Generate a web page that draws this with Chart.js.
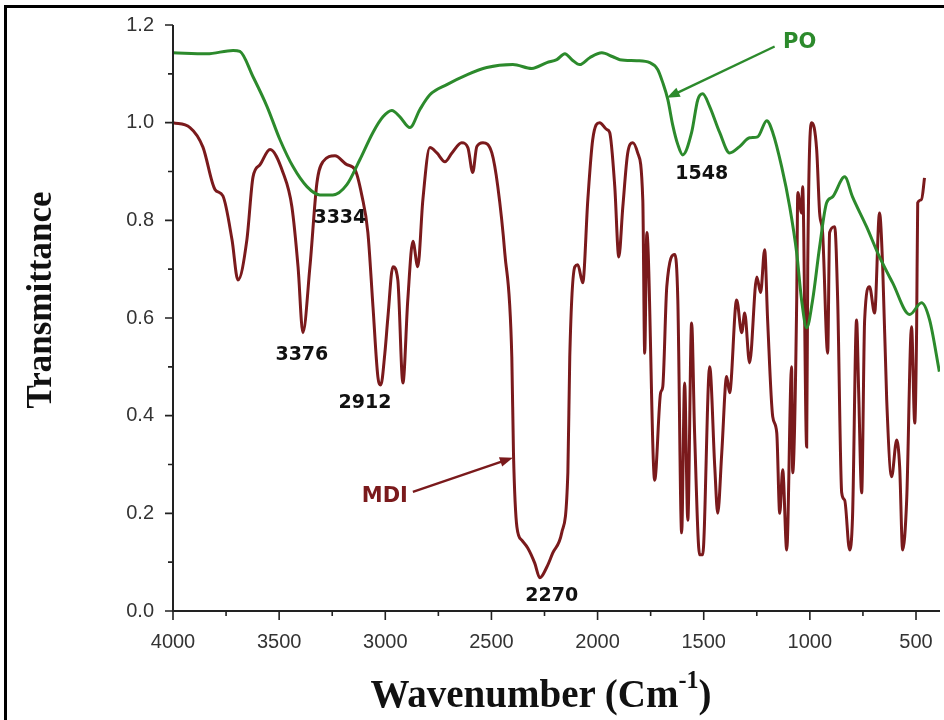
<!DOCTYPE html>
<html>
<head>
<meta charset="utf-8">
<script src="https://cdn.jsdelivr.net/npm/chart.js@4.4.0/dist/chart.umd.min.js"></script>
<style>
  html, body { margin: 0; padding: 0; background: #fff; }
  #wrap { position: relative; width: 944px; height: 720px; overflow: hidden; background: #fff; }
  #frame { position: absolute; left: 4px; top: 5px; width: 960px; height: 740px; border-left: 3px solid #000; border-top: 3px solid #000; }
  canvas { position: absolute; left: 0; top: 0; }
  .title { position: absolute; font-family: "Liberation Serif", "Times New Roman", serif; font-weight: bold; color: #111; white-space: nowrap; }
  #ytitle { left: 40px; top: 300px; font-size: 35px; transform: translate(-50%, -50%) rotate(-90deg); }
  #xtitle { left: 541px; top: 693px; font-size: 39px; transform: translate(-50%, -50%); }
  #xtitle sup { font-size: 62%; vertical-align: 0.75em; line-height: 0; }
</style>
</head>
<body>
<div id="wrap">
  <canvas id="ftir" width="944" height="720"></canvas>
  <div id="frame"></div>
  <div class="title" id="ytitle">Transmittance</div>
  <div class="title" id="xtitle">Wavenumber (Cm<sup>-1</sup>)</div>
</div>
<script>
// MDI spectrum (wavenumber cm-1 / transmittance)
mdiWave = [4000,3920,3859,3802,3765,3722,3694,3652,3623,3590,3543,3482,3440,3411,3388,3355,3322,3294,3237,3181,
  3143,3110,3082,3058,3035,3021,3002,2988,2964,2941,2917,2894,2870,2847,2823,2790,2757,2719,2686,2640,
  2611,2588,2569,2540,2498,2470,2437,2404,2396,2380,2357,2329,2296,2272,2239,2211,2169,2140,2131,2107,
  2093,2070,2046,2023,1990,1957,1943,1919,1900,1881,1858,1834,1811,1787,1778,1768,1731,1703,1693,1674,
  1636,1622,1604,1590,1575,1557,1543,1519,1505,1472,1448,1434,1415,1392,1378,1345,1321,1307,1284,1250,
  1232,1213,1199,1175,1156,1142,1128,1109,1086,1081,1062,1057,1039,1034,1015,1010,991,968,954,940,
  916,907,883,869,850,836,813,799,780,770,756,742,719,695,672,657,638,615,591,577,
  563,544,521,506,497,492,474,460]
mdiT = [1.0,0.99,0.95,0.863,0.85,0.76,0.678,0.76,0.889,0.914,0.945,0.898,0.828,0.705,0.57,0.705,0.877,0.92,0.932,0.914,
  0.904,0.85,0.775,0.623,0.48,0.463,0.528,0.60,0.705,0.678,0.467,0.637,0.757,0.705,0.842,0.949,0.938,0.92,0.938,0.959,
  0.949,0.898,0.951,0.959,0.938,0.869,0.733,0.52,0.32,0.172,0.145,0.129,0.098,0.068,0.09,0.119,0.16,0.283,0.52,0.705,
  0.709,0.672,0.842,0.965,1.0,0.986,0.98,0.869,0.725,0.828,0.938,0.959,0.938,0.842,0.528,0.775,0.268,0.447,0.459,0.664,
  0.73,0.637,0.16,0.467,0.186,0.59,0.365,0.115,0.115,0.5,0.295,0.2,0.324,0.48,0.447,0.637,0.57,0.61,0.508,0.684,
  0.652,0.74,0.596,0.398,0.365,0.2,0.289,0.125,0.5,0.283,0.637,0.857,0.815,0.869,0.336,0.705,1.0,0.945,0.815,0.775,
  0.528,0.775,0.787,0.637,0.242,0.227,0.125,0.193,0.596,0.447,0.242,0.596,0.664,0.61,0.815,0.705,0.432,0.275,0.35,0.295,
  0.125,0.227,0.582,0.385,0.582,0.836,0.842,0.887]

// PO spectrum
poWave = [4000,3840,3717,3685,3623,3557,3496,3435,3369,3308,3247,3181,3120,3058,3011,2969,2931,2884,2837,2790,
  2710,2616,2522,2399,2310,2239,2192,2154,2121,2084,2037,1980,1928,1895,1815,1754,1717,1693,1669,1646,
  1622,1599,1557,1528,1505,1472,1425,1378,1331,1284,1246,1203,1175,1133,1095,1062,1039,1015,987,954,
  921,893,836,799,733,672,610,530,474,436,390]
poT = [1.143,1.141,1.148,1.146,1.094,1.033,0.965,0.91,0.869,0.852,0.852,0.873,0.924,0.98,1.012,1.025,1.012,0.99,1.027,1.057,
  1.078,1.098,1.113,1.119,1.111,1.123,1.129,1.141,1.129,1.119,1.133,1.143,1.135,1.129,1.127,1.123,1.109,1.082,1.047,0.995,
  0.955,0.934,0.98,1.047,1.059,1.033,0.98,0.938,0.951,0.969,0.971,1.004,0.98,0.91,0.828,0.733,0.637,0.58,0.637,0.746,
  0.836,0.848,0.889,0.848,0.787,0.725,0.672,0.607,0.631,0.596,0.49]

// axis ticks
xMajor = [4000,3500,3000,2500,2000,1500,1000,500]
xMinor = [3750,3250,2750,2250,1750,1250,750]
xLabels = ["4000","3500","3000","2500","2000","1500","1000","500"]
yMajor = [0.0,0.2,0.4,0.6,0.8,1.0,1.2]
yMinor = [0.1,0.3,0.5,0.7,0.9,1.1]
yLabels = ["0.0","0.2","0.4","0.6","0.8","1.0","1.2"]

// peak labels
noteText = ["3334","3376","2912","2270","1548"]
noteWave = [3214,3393,3096,2216,1509]
noteT = [0.805,0.525,0.426,0.031,0.895]

MDI_COLOR = "#7a1a1c"
PO_COLOR = "#2c8a2c"

function toPoints(xs, ys){
  return xs.map((x, i) => ({x: x, y: ys[i]}))
}

function labelFor(vals, labels, v){
  return labels[vals.findIndex(m => Math.abs(m - v) < 1e-6)]
}

// outward ticks, majors longer than minors
tickPlugin = {
  id: "ticks",
  afterDraw(chart){
    const ctx = chart.ctx
    const xs = chart.scales.x, ys = chart.scales.y
    const a = chart.chartArea
    ctx.save()
    ctx.strokeStyle = "#222"
    ctx.lineWidth = 2
    ctx.beginPath()
    ctx.moveTo(a.left, a.top); ctx.lineTo(a.left, a.bottom); ctx.lineTo(a.right, a.bottom)
    ctx.stroke()
    ctx.lineWidth = 1.6
    ctx.beginPath()
    xMajor.forEach(v => { const p = xs.getPixelForValue(v); ctx.moveTo(p, a.bottom); ctx.lineTo(p, a.bottom + 9) })
    xMinor.forEach(v => { const p = xs.getPixelForValue(v); ctx.moveTo(p, a.bottom); ctx.lineTo(p, a.bottom + 5) })
    yMajor.forEach(v => { const p = ys.getPixelForValue(v); ctx.moveTo(a.left, p); ctx.lineTo(a.left - 8, p) })
    yMinor.forEach(v => { const p = ys.getPixelForValue(v); ctx.moveTo(a.left, p); ctx.lineTo(a.left - 5, p) })
    ctx.stroke()
    ctx.restore()
  }
}

function arrow(ctx, x1, y1, x2, y2, color){
  const ang = Math.atan2(y2 - y1, x2 - x1)
  const L = 13, W = 5
  ctx.strokeStyle = color
  ctx.fillStyle = color
  ctx.lineWidth = 2.4
  ctx.beginPath()
  ctx.moveTo(x1, y1)
  ctx.lineTo(x2 - Math.cos(ang) * L * 0.8, y2 - Math.sin(ang) * L * 0.8)
  ctx.stroke()
  ctx.beginPath()
  ctx.moveTo(x2, y2)
  ctx.lineTo(x2 - Math.cos(ang) * L + Math.sin(ang) * W, y2 - Math.sin(ang) * L - Math.cos(ang) * W)
  ctx.lineTo(x2 - Math.cos(ang) * L - Math.sin(ang) * W, y2 - Math.sin(ang) * L + Math.cos(ang) * W)
  ctx.closePath()
  ctx.fill()
}

notePlugin = {
  id: "notes",
  afterDatasetsDraw(chart){
    const ctx = chart.ctx
    const xs = chart.scales.x, ys = chart.scales.y
    ctx.save()
    ctx.textAlign = "center"
    ctx.textBaseline = "middle"
    ctx.font = "bold 19px 'DejaVu Sans'"
    ctx.fillStyle = "#111"
    noteText.forEach((t, i) => {
      ctx.fillText(t, xs.getPixelForValue(noteWave[i]), ys.getPixelForValue(noteT[i]))
    })
    // series names with arrows
    ctx.font = "bold 21px 'DejaVu Sans'"
    ctx.fillStyle = PO_COLOR
    ctx.fillText("PO", xs.getPixelForValue(1048), ys.getPixelForValue(1.164))
    arrow(ctx, xs.getPixelForValue(1166), ys.getPixelForValue(1.156), xs.getPixelForValue(1674), ys.getPixelForValue(1.051), PO_COLOR)
    ctx.fillStyle = MDI_COLOR
    ctx.fillText("MDI", xs.getPixelForValue(3002), ys.getPixelForValue(0.234))
    arrow(ctx, xs.getPixelForValue(2870), ys.getPixelForValue(0.244), xs.getPixelForValue(2399), ys.getPixelForValue(0.314), MDI_COLOR)
    ctx.restore()
  }
}

chart = document.getElementById("ftir")

ftirChart = new Chart(chart, {
  type: "scatter",
  data: {
    datasets: [{
      label: "PO",
      data: toPoints(poWave, poT),
      borderColor: PO_COLOR,
      borderWidth: 3,
      showLine: true,
      pointRadius: 0,
      cubicInterpolationMode: "monotone"
    }, {
      label: "MDI",
      data: toPoints(mdiWave, mdiT),
      borderColor: MDI_COLOR,
      borderWidth: 3,
      showLine: true,
      pointRadius: 0,
      cubicInterpolationMode: "monotone"
    }]
  },
  options: {
    responsive: false,
    animation: false,
    devicePixelRatio: 1,
    layout: { padding: { top: 25, right: 4, left: 0, bottom: 0 } },
    plugins: { legend: { display: false }, tooltip: { enabled: false } },
    scales: {
      x: {
        type: "linear",
        reverse: true,
        min: 387,
        max: 4000,
        border: { display: false },
        grid: { display: false },
        afterBuildTicks: s => { s.ticks = xMajor.map(v => ({value: v})) },
        afterFit: s => { s.height = 109 },
        ticks: {
          padding: 11,
          color: "#333",
          font: { family: "'Liberation Sans', Arial", size: 20 },
          maxRotation: 0,
          autoSkip: false,
          callback: v => labelFor(xMajor, xLabels, v)
        }
      },
      y: {
        min: 0,
        max: 1.2,
        border: { display: false },
        grid: { display: false },
        afterBuildTicks: s => { s.ticks = yMajor.map(v => ({value: v})) },
        afterFit: s => { s.width = 173 },
        ticks: {
          padding: 11,
          color: "#333",
          font: { family: "'Liberation Sans', Arial", size: 20 },
          callback: v => labelFor(yMajor, yLabels, v)
        }
      }
    }
  },
  plugins: [tickPlugin, notePlugin]
})
</script>
</body>
</html>
